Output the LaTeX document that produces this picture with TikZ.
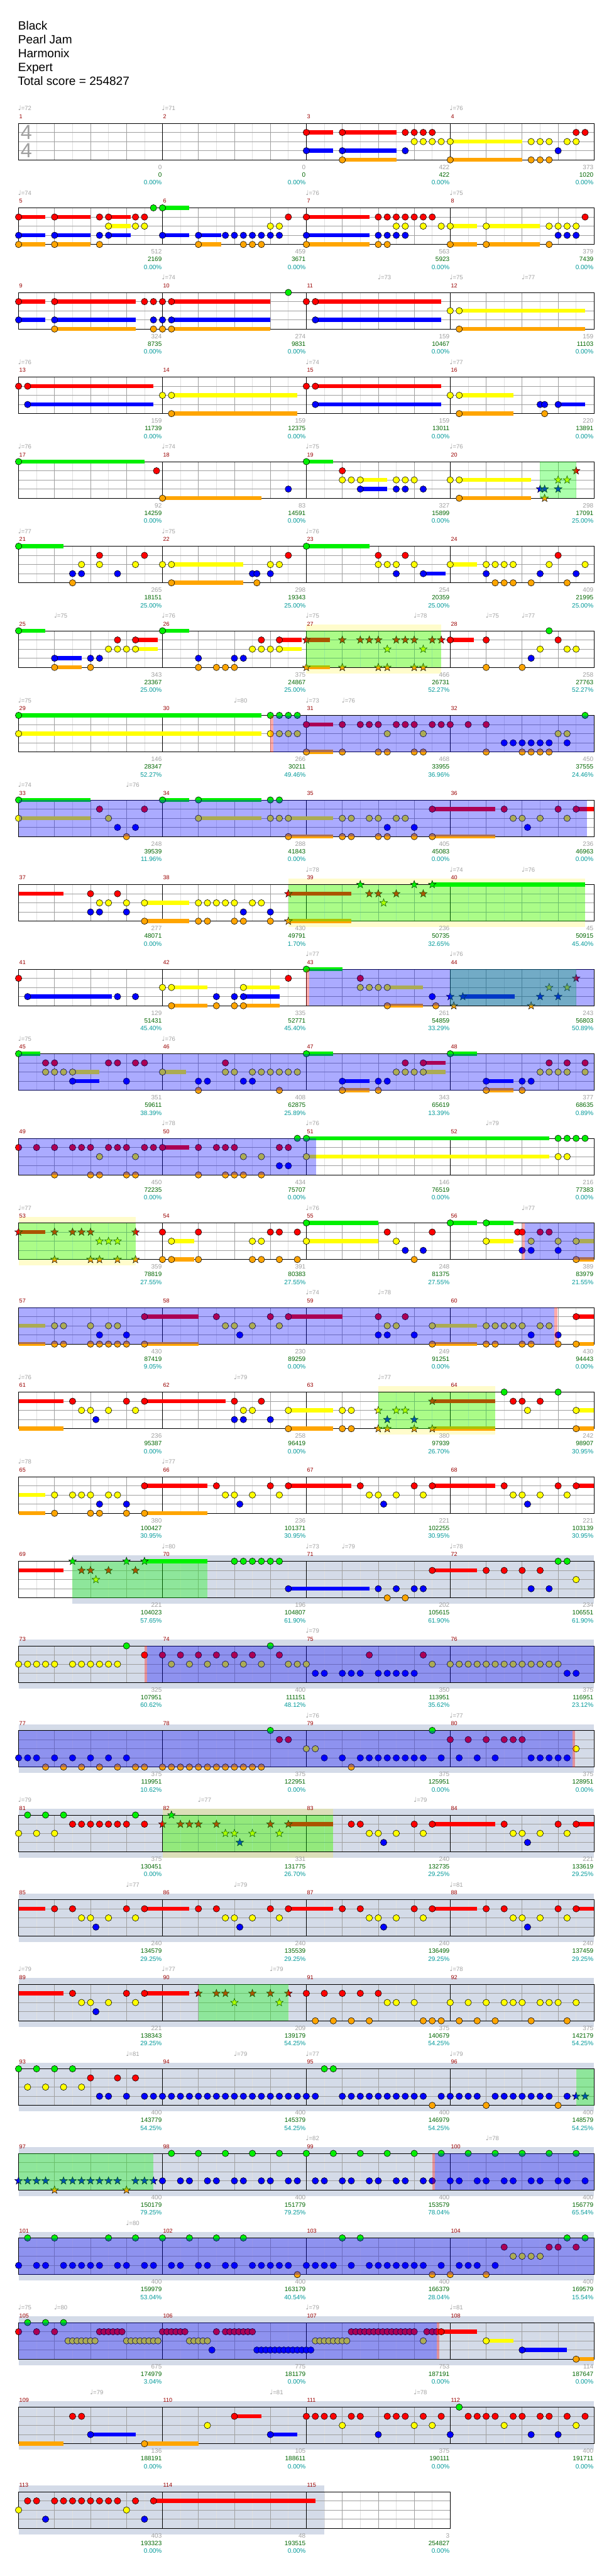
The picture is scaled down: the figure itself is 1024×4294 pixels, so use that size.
\documentclass[tikz,border=0pt]{standalone}
\usepackage{fontspec}
\setmainfont{Liberation Sans}
\newfontfamily\notefont{DejaVu Sans}
\usepackage{tikz}
\definecolor{GHGreen}{HTML}{00F000}
\definecolor{GHRed}{HTML}{FF0000}
\definecolor{GHYellow}{HTML}{FFFF00}
\definecolor{GHBlue}{HTML}{0000FF}
\definecolor{GHOrange}{HTML}{FFA500}
\colorlet{GHL0}{GHGreen}
\colorlet{GHL1}{GHRed}
\colorlet{GHL2}{GHYellow}
\colorlet{GHL3}{GHBlue}
\colorlet{GHL4}{GHOrange}
\definecolor{GHSolo}{HTML}{D4DBE8}
\definecolor{GHGrid}{HTML}{A0A0A0}
\definecolor{GHFine}{HTML}{E0E0E0}
\definecolor{GHBarNum}{HTML}{990000}
\definecolor{GHGray}{HTML}{A0A0A0}
\definecolor{GHCum}{HTML}{006600}
\definecolor{GHPct}{HTML}{009999}
\newcounter{ghtempo}
\newcommand\ghrow[1]{\pgfmathsetmacro\rowT{205.5+141*(#1-1)}}
\newcommand\ghstaff[1]{%
  \pgfmathsetmacro\rowW{240*#1}%
  \pgfmathtruncatemacro\nE{8*#1-1}%
  \pgfmathtruncatemacro\nB{4*#1-1}%
  \foreach \ve in {1,...,\nE} \draw[GHFine,line width=.8pt] ({31+30*\ve},\rowT) -- ({31+30*\ve},{\rowT+61});
  \foreach \ve in {1,...,\nB} \draw[GHGrid,line width=.8pt] ({31+60*\ve},\rowT) -- ({31+60*\ve},{\rowT+61});
  \foreach \ve in {1,2,3} \draw[GHGrid,line width=.8pt] (31,{\rowT+15.25*\ve}) -- ({31+\rowW},{\rowT+15.25*\ve});
  \foreach \ve in {1,...,#1} \draw[black,line width=.8pt] ({31+240*\ve},\rowT) -- ({31+240*\ve},{\rowT+61});
  \draw[black,line width=1pt] (31,\rowT) rectangle ({31+\rowW},{\rowT+61});}
\newcommand\ghsolo[2]{\fill[GHSolo] ({31+30*#1},{\rowT-10}) rectangle ({31+30*#2},{\rowT+71});}
\newcommand\ghspzone[2]{\fill[yellow,opacity=.2] ({31+30*#1},{\rowT-10}) rectangle ({31+30*#2},{\rowT+71});}
\newcommand\ghsp[2]{\fill[green,opacity=.33] ({31+30*#1},\rowT) rectangle ({31+30*#2},{\rowT+61});}
\newcommand\ghod[2]{\fill[blue,opacity=.33] ({31+30*#1},\rowT) rectangle ({31+30*#2},{\rowT+61});}
\newcommand\ghact[1]{\fill[red,opacity=.33] ({31+30*#1},\rowT) rectangle ({35.5+30*#1},{\rowT+61});}
\newcommand\ghsus[2]{\foreach \va/\vb in {#2}{\fill[GHL#1] ({31+30*\va},{\rowT+15.25*#1-3.4}) rectangle ({31+30*\vb},{\rowT+15.25*#1+3.4});}}
\newcommand\ghnote[2]{\foreach \vp in {#2}{\filldraw[fill=GHL#1,draw=black,line width=.6pt] ({31+30*\vp},{\rowT+15.25*#1}) circle (5.4pt);}}
\newcommand\ghstar[2]{\foreach \vp in {#2}{\filldraw[fill=GHL#1,draw=black,line width=.5pt,shift={({31+30*\vp},{\rowT+15.25*#1})}] (90:6.8pt) -- (126:2.8pt) -- (162:6.8pt) -- (198:2.8pt) -- (234:6.8pt) -- (270:2.8pt) -- (306:6.8pt) -- (342:2.8pt) -- (18:6.8pt) -- (54:2.8pt) -- cycle;}}
\newcommand\ghbars[2]{\foreach \vj in {1,...,#2}{\pgfmathtruncatemacro\vm{#1+\vj-1}\node[barnum] (bar\vm) at ({32+240*(\vj-1)},{\rowT-8}) {\vm};}}
\newcommand\ghtempo[2]{\stepcounter{ghtempo}\node[tempo] (tempo\theghtempo) at ({30+30*#1},{\rowT-21}) {{\notefont\fontsize{11}{12}\selectfont ♩}=#2};}
\newcommand\ghscores[2]{\foreach \va/\vb/\vc [count=\vj] in {#2}{\pgfmathtruncatemacro\vm{#1+\vj-1}
  \node[pts] (pts\vm) at ({30+240*\vj},{\rowT+76.5}) {\va};
  \node[cum] (cum\vm) at ({30+240*\vj},{\rowT+89.5}) {\vb};
  \node[pct] (pct\vm) at ({30+240*\vj},{\rowT+102.5}) {\vc\%};}}

\begin{document}
\begin{tikzpicture}[x=1pt,y=-1pt,
  headline/.style={anchor=base west,inner sep=0pt,font=\fontsize{20}{24}\selectfont},
  barnum/.style={anchor=base west,inner sep=0pt,text=GHBarNum,font=\fontsize{9.5}{11}\selectfont},
  tempo/.style={anchor=base west,inner sep=0pt,text=GHGray,font=\fontsize{10}{12}\selectfont},
  pts/.style={anchor=base east,inner sep=0pt,text=GHGray,font=\fontsize{10.5}{12}\selectfont},
  cum/.style={pts,text=GHCum},
  pct/.style={pts,text=GHPct},
  timesig/.style={inner sep=0pt,text=GHGray,font=\fontsize{34}{34}\selectfont}]
\path[use as bounding box] (0,0) rectangle (1024,4294);
\fill[white] (0,0) rectangle (1024,4294);
\node[headline] (song) at (30,49.3) {Black};
\node[headline] (artist) at (30,72.5) {Pearl Jam};
\node[headline] (charter) at (30,95.7) {Harmonix};
\node[headline] (level) at (30,118.8) {Expert};
\node[headline] (total) at (29.5,141.9) {Total score = 254827};

\ghrow{1}
\ghstaff{4}
\node[timesig] (sigtop) at (44,{\rowT+15.5}) {4};
\node[timesig] (sigbot) at (44,{\rowT+45.5}) {4};
\ghsus{1}{16/17.5,18/21}
\ghsus{2}{24/28}
\ghsus{3}{16/17.5,18/21}
\ghsus{4}{18/21,24/28}
\ghnote{1}{16,18,21.5,22,22.5,23,31,31.5}
\ghnote{2}{22,22.5,23,23.5,24,28.5,29,29.5,30.5,31}
\ghnote{3}{16,18,21.5,30}
\ghnote{4}{18,24,28.5,29,29.5}
\ghbars{1}{4}
\ghtempo{0}{72}\ghtempo{8}{71}\ghtempo{24}{76}
\ghscores{1}{0/0/0.00,0/0/0.00,422/422/0.00,373/1020/0.00}

\ghrow{2}
\ghstaff{4}
\ghsus{0}{8/9.5}
\ghsus{1}{0/1.5,2/4,5/6.25,16/19.5}
\ghsus{2}{5/6.25,24/25.5,26/29}
\ghsus{3}{0/1.5,2/4,5/6.25,8/9.5,10/11.25,16/19.5}
\ghsus{4}{0/1.5,2/4,10/11.25,16/19.5,24/25.5,26/29}
\ghnote{0}{7.5,8}
\ghnote{1}{0,2,4.5,5,6.5,7,15,16,20,20.5,21,21.5,22,22.5,23,31.5}
\ghnote{2}{5,6.5,7,14,14.5,21,21.5,22.5,23.5,24,26,29.5,30,30.5,31}
\ghnote{3}{0,2,4.5,5,8,10,11.5,12,12.5,13,13.5,14,14.5,16,20,20.5,21,21.5,30,30.5,31}
\ghnote{4}{0,2,4.5,10,12.5,13,13.5,16,20,20.5,24,26,29.5}
\ghbars{5}{4}
\ghtempo{0}{74}\ghtempo{16}{76}\ghtempo{24}{75}
\ghscores{5}{512/2169/0.00,459/3671/0.00,563/5923/0.00,379/7439/0.00}

\ghrow{3}
\ghstaff{4}
\ghsus{1}{0/1.5,2/6.5,8.5/14,16.5/23.5}
\ghsus{2}{24.5/31.5}
\ghsus{3}{0/1.5,2/6.5,8.5/14,16.5/23.5}
\ghsus{4}{2/6.5,8.5/14,24.5/31.5}
\ghnote{0}{15}
\ghnote{1}{0,2,7,7.5,8,8.5,16,16.5}
\ghnote{2}{24,24.5}
\ghnote{3}{0,2,7.5,8,8.5,16.5}
\ghnote{4}{2,7.5,8,8.5,24.5}
\ghbars{9}{4}
\ghtempo{8}{74}\ghtempo{20}{73}\ghtempo{24}{75}\ghtempo{28}{77}
\ghscores{9}{324/8735/0.00,274/9831/0.00,159/10467/0.00,159/11103/0.00}

\ghrow{4}
\ghstaff{4}
\ghsus{1}{0.5/7.5,16.5/23.5}
\ghsus{2}{8.5/15.5,24.5/27.5}
\ghsus{3}{0.5/7.5,16.5/23.5,30/31.5}
\ghsus{4}{8.5/15.5,24.5/27.5}
\ghnote{1}{0,0.5,16,16.5}
\ghnote{2}{8,8.5,24,24.5}
\ghnote{3}{0.5,16.5,29,29.25,30}
\ghnote{4}{8.5,24.5,29.25}
\ghbars{13}{4}
\ghtempo{0}{76}\ghtempo{16}{74}\ghtempo{24}{77}
\ghscores{13}{159/11739/0.00,159/12375/0.00,159/13011/0.00,220/13891/0.00}

\ghrow{5}
\ghstaff{4}
\ghsus{0}{0/7,16/17.5}
\ghsus{2}{19/20.5,24.5/28.5}
\ghsus{3}{19/20.5}
\ghsus{4}{8/13.5,24.5/28.5}
\ghnote{0}{0,16}
\ghnote{1}{7.67,18}
\ghnote{2}{18,18.5,19,21,21.5,22,24,24.5}
\ghnote{3}{15,19,21,21.5,22.5}
\ghnote{4}{8,24.5}
\ghstar{1}{31}
\ghstar{2}{30,30.5}
\ghstar{3}{29,29.25,30}
\ghstar{4}{29.25}
\ghsp{29}{31}
\ghbars{17}{4}
\ghtempo{0}{76}\ghtempo{8}{74}\ghtempo{16}{75}\ghtempo{24}{76}
\ghscores{17}{92/14259/0.00,83/14591/0.00,327/15899/0.00,298/17091/25.00}

\ghrow{6}
\ghstaff{4}
\ghsus{0}{0/2.5,16/19.5}
\ghsus{2}{8.5/12.5,24/25.5}
\ghsus{3}{22.5/23.75}
\ghsus{4}{8.5/12.5}
\ghnote{0}{0,16}
\ghnote{1}{4.5,7,15,20,21.5,30}
\ghnote{2}{3.5,4.5,6.5,8,8.5,14,14.5,20,20.5,21,22,24,26,26.5,27,27.5,29.5,31.5}
\ghnote{3}{3,3.5,5.5,13,13.25,14,21,22.5,26,29,31}
\ghnote{4}{3,8.5,13.25,26.5,27,27.5,28.5,30.5}
\ghbars{21}{4}
\ghtempo{0}{77}\ghtempo{8}{75}\ghtempo{16}{76}
\ghscores{21}{265/18151/25.00,298/19343/25.00,254/20359/25.00,409/21995/25.00}

\ghrow{7}
\ghspzone{16}{23.5}
\ghstaff{4}
\ghsus{0}{0/1.5,8/9.5}
\ghsus{1}{6.5/7.75,14.5/15.75,16/17.3,24/25.3}
\ghsus{2}{6.5/7.75,14.5/15.75}
\ghsus{3}{2/3.5}
\ghsus{4}{2/3.5,16/17.3}
\ghnote{0}{0,8,29.5}
\ghnote{1}{5.5,6.5,13.5,14.5,24,26,30}
\ghnote{2}{5,5.5,6,6.5,13,13.5,14,14.5,29,30.5,31}
\ghnote{3}{2,4,4.5,10,12,12.5,28.5}
\ghnote{4}{2,4,10,11,11.5,12,26,28}
\ghstar{1}{16,18,19,19.5,20,21,21.5,22,23,23.5}
\ghstar{2}{20.5,22.5}
\ghstar{4}{16,18,20,20.5,22,22.5}
\ghsp{16}{23.5}
\ghbars{25}{4}
\ghtempo{2}{75}\ghtempo{8}{76}\ghtempo{16}{75}\ghtempo{22}{78}\ghtempo{26}{75}\ghtempo{28}{77}
\ghscores{25}{343/23367/25.00,375/24867/25.00,466/26731/52.27,258/27763/52.27}

\ghrow{8}
\ghstaff{4}
\ghsus{0}{0/13.5}
\ghsus{1}{16/17.5}
\ghsus{2}{0/13.5}
\ghsus{4}{16/17.5}
\ghnote{0}{0,14,14.5,15,15.5,31.5}
\ghnote{1}{16,18,19,19.5,20,21,21.5,22,23,23.5,24,25,26}
\ghnote{2}{0,14,14.5,15,15.5,20.5,22.5,30,30.5}
\ghnote{3}{27,27.5,28,28.5,29,29.5,30.5}
\ghnote{4}{16,18,20,20.5,22,22.5,26,28,28.5,29,29.5}
\ghact{14}
\ghod{14.15}{32}
\ghbars{29}{4}
\ghtempo{0}{75}\ghtempo{12}{80}\ghtempo{16}{73}\ghtempo{18}{76}
\ghscores{29}{146/28347/52.27,266/30211/49.46,468/33955/36.96,450/37555/24.46}

\ghrow{9}
\ghstaff{4}
\ghsus{0}{0/4,8/9.5,10/13.5}
\ghsus{1}{23/26.5,31/32}
\ghsus{2}{0/4,10/13.5,15/17.5}
\ghsus{4}{15/17.5,23/26.5}
\ghnote{0}{0,8,10,14,14.5}
\ghnote{1}{4.5,7,23,27,30,31}
\ghnote{2}{0,5,10,14,14.5,15,18,18.5,19.5,20,21,21.5,27.5,28,29,30.5}
\ghnote{3}{5.5,6.5,20.5,22,28.3}
\ghnote{4}{6,15,18,18.5,20,20.5,22,23}
\ghod{0}{31.6}
\ghbars{33}{4}
\ghtempo{0}{74}\ghtempo{6}{76}
\ghscores{33}{248/39539/11.96,288/41843/0.00,405/45083/0.00,236/46963/0.00}

\ghrow{10}
\ghspzone{15}{31.5}
\ghstaff{4}
\ghsus{0}{23/31.5}
\ghsus{1}{0/2.5,15/18.5}
\ghsus{2}{7/9.5}
\ghsus{4}{7/9.5,15/18.5}
\ghnote{1}{4,5.5}
\ghnote{2}{4.5,5,6,7,10,10.5,11,11.5,12,13,13.5}
\ghnote{3}{4,4.5,6,12.5,14}
\ghnote{4}{7,10,10.5,12,12.5,14}
\ghstar{0}{19,22,23}
\ghstar{1}{15,19.5,20,21,22.5}
\ghstar{2}{20.3}
\ghstar{4}{15}
\ghsp{15}{31.5}
\ghbars{37}{4}
\ghtempo{16}{78}\ghtempo{24}{74}\ghtempo{28}{76}
\ghscores{37}{277/48071/0.00,430/49791/1.70,236/50735/32.65,45/50915/45.40}

\ghrow{11}
\ghstaff{4}
\ghsus{0}{16/18}
\ghsus{2}{8.5/10.5,12.5/14.5,20.5/22.5}
\ghsus{3}{0.5/5.2,12.5/14.5,24.7/27.6}
\ghsus{4}{8.5/10.5,12.5/14.5,20.5/22.5}
\ghnote{0}{16}
\ghnote{1}{0,15,19}
\ghnote{2}{8,8.5,12.5,19,19.5,20,20.5}
\ghnote{3}{0.5,5.5,6.5,11,12,12.5,23}
\ghnote{4}{8.5,11,12,12.5,20.5,23.2}
\ghstar{1}{31}
\ghstar{2}{29.5,30.5}
\ghstar{3}{24,24.7,29,30}
\ghstar{4}{24.2,28.5}
\ghsp{24}{31}
\ghact{16}
\ghod{16.15}{32}
\ghbars{41}{4}
\ghtempo{16}{77}\ghtempo{24}{76}
\ghscores{41}{129/51431/45.40,335/52771/45.40,261/54859/33.29,243/56803/50.89}

\ghrow{12}
\ghstaff{4}
\ghsus{0}{0/1.2,16/17.5,24/25.5}
\ghsus{1}{22.5/23.75}
\ghsus{2}{3/4.5,8/9.3,22.5/23.75}
\ghsus{3}{3/4.5,18/19.5,26/27.5}
\ghsus{4}{18/19.5,26/27.5}
\ghnote{0}{0,16,24}
\ghnote{1}{1.5,2,5,5.5,6.5,7,11.5,21.5,22.5,29.5,30.5,31.5}
\ghnote{2}{1.5,2,2.5,3,8,11.5,12,13,13.5,14,14.5,15,15.5,21,21.5,22,22.5,29,29.5,30,30.5,31.5}
\ghnote{3}{3,6,10,10.5,12.5,13,18,20,20.5,26,28,28.5}
\ghnote{4}{10,14.5,18,20,26,28}
\ghod{0}{32}
\ghbars{45}{4}
\ghtempo{0}{75}\ghtempo{8}{76}
\ghscores{45}{351/59611/38.39,408/62875/25.89,343/65619/13.39,377/68635/0.89}

\ghrow{13}
\ghstaff{4}
\ghsus{0}{16/29.5}
\ghsus{1}{8/9.5}
\ghsus{2}{16/29.5}
\ghnote{0}{15.5,16,30,30.5,31,31.5}
\ghnote{1}{0,1,2,3,3.5,4,5,5.5,6,7,7.5,8,10,11,11.5,12,14.5,15}
\ghnote{2}{4.5,6.5,12.5,13.5,16,30,30.5}
\ghnote{3}{14.5,15}
\ghnote{4}{2,4,4.5,6,6.5,10,11.5,12,12.5,13.5}
\ghod{0}{16.55}
\ghbars{49}{4}
\ghtempo{8}{78}\ghtempo{16}{76}\ghtempo{26}{79}
\ghscores{49}{450/72235/0.00,434/75707/0.00,146/76519/0.00,216/77383/0.00}

\ghrow{14}
\ghspzone{0}{6.5}
\ghstaff{4}
\ghsus{0}{16/20,24/25.5,26/27.5}
\ghsus{1}{0/1.5}
\ghsus{2}{8.5/9.75,16/20,26/27.5,31/32}
\ghsus{4}{8.5/9.75,31/32}
\ghnote{0}{16,24,26}
\ghnote{1}{8,10,14,14.5,15.5,20.5,23,27.75,28,29,29.5}
\ghnote{2}{8.5,13,13.5,16,21,26,28.5,30,31}
\ghnote{3}{21.5,22.5,28,28.5,30}
\ghnote{4}{8,8.5,10,13,13.5,14.5,15.5,22,31}
\ghstar{1}{0,2,3,3.5,4,6.5}
\ghstar{2}{4.5,5,5.5}
\ghstar{4}{2,4,4.5,5.5,6.5}
\ghsp{0}{6.5}
\ghact{28}
\ghod{28.15}{32}
\ghbars{53}{4}
\ghtempo{0}{77}\ghtempo{16}{76}\ghtempo{28}{77}
\ghscores{53}{359/78819/27.55,391/80383/27.55,248/81375/27.55,389/83979/21.55}

\ghrow{15}
\ghstaff{4}
\ghsus{1}{7/10,15/18,31/32}
\ghsus{2}{0/1.5,23/25.5}
\ghsus{4}{0/1.5,7/10,23/25.5,31/32}
\ghnote{1}{7,11,14,15,20,21.5,31}
\ghnote{2}{2,2.5,4,5,5.5,11.5,12,13,14.5,20.5,21,23,26,26.5,27,27.5,28,29,29.5}
\ghnote{3}{4.5,6,12.3,20,20.5,22,28.5,30}
\ghnote{4}{2,2.5,4,4.5,5,5.5,6,7,23,26,26.5,28,28.5,30,31}
\ghod{0}{29.8}
\ghact{29.8}
\ghbars{57}{4}
\ghtempo{16}{74}\ghtempo{20}{78}
\ghscores{57}{430/87419/9.05,230/89259/0.00,249/91251/0.00,430/94443/0.00}

\ghrow{16}
\ghspzone{20}{26.5}
\ghstaff{4}
\ghsus{1}{0/2.5,7/11.5,23/26.5}
\ghsus{2}{15/17.5,31/32}
\ghsus{4}{0/2.5,15/17.5,23/26.5,31/32}
\ghnote{0}{27,30}
\ghnote{1}{3,6,7,12,13.5,27.5,28,29}
\ghnote{2}{3.5,4,5,6.5,12.5,13,15,18,18.5,28.3,31}
\ghnote{3}{4.3,12,12.5,14}
\ghnote{4}{15,18,18.5,31}
\ghstar{1}{23}
\ghstar{2}{20,21,21.5}
\ghstar{3}{20.5,22}
\ghstar{4}{20,20.5,22,23}
\ghsp{20}{26.5}
\ghbars{61}{4}
\ghtempo{0}{76}\ghtempo{12}{79}\ghtempo{20}{77}
\ghscores{61}{236/95387/0.00,258/96419/0.00,380/97939/26.70,242/98907/30.95}

\ghrow{17}
\ghstaff{4}
\ghsus{1}{7/10.5,15/18.5,23/26.5,31/32}
\ghsus{2}{0/1.5}
\ghsus{4}{0/1.5,7/10.5}
\ghnote{1}{7,11,14,15,19,22,23,27,30,31}
\ghnote{2}{2,3,3.5,4,5,5.5,11.5,12,13,14.5,19.5,20,21,22.5,27.5,28,29,30.5}
\ghnote{3}{4.5,6,12.3,20.3,28.3}
\ghnote{4}{2,4,4.5,6,7}
\ghbars{65}{4}
\ghtempo{0}{78}\ghtempo{8}{77}
\ghscores{65}{380/100427/30.95,236/101371/30.95,221/102255/30.95,221/103139/30.95}

\ghrow{18}
\ghsolo{3}{32}
\ghstaff{4}
\ghsus{0}{7/10.5}
\ghsus{1}{0/2.5,23/25.5}
\ghsus{3}{15/19.5}
\ghnote{0}{12,12.5,13,13.5,14,14.5,30,30.5}
\ghnote{1}{23,26,27,28,29}
\ghnote{2}{31}
\ghnote{3}{15,20,21,22,22.5,28.5,29.5}
\ghnote{4}{20.5,21.5}
\ghstar{0}{3,6,7}
\ghstar{1}{3.5,4,5,6.5}
\ghstar{2}{4.3}
\ghsp{3}{10.5}
\ghbars{69}{4}
\ghtempo{8}{80}\ghtempo{16}{73}\ghtempo{18}{79}\ghtempo{24}{78}
\ghscores{69}{221/104023/57.65,196/104807/61.90,202/105615/61.90,234/106551/61.90}

\ghrow{19}
\ghsolo{0}{32}
\ghstaff{4}
\ghnote{0}{6,14}
\ghnote{1}{7,8,9,10,11,12,13,14.5,19.5,22.5}
\ghnote{2}{0,0.5,1,1.5,2,3,3.5,4,4.5,5,5.5,8.5,9.5,10.5,11.5,12.5,13.5,15,15.5,16,23,24,24.5,...,30}
\ghnote{3}{16.5,17,18,18.5,19,20,20.5,21,21.5,22,30.5,31}
\ghact{7}
\ghod{7.15}{32}
\ghbars{73}{4}
\ghtempo{16}{79}
\ghscores{73}{325/107951/60.62,400/111151/48.12,350/113951/35.62,375/116951/23.12}

\ghrow{20}
\ghsolo{0}{32}
\ghstaff{4}
\ghnote{0}{14,23}
\ghnote{1}{14.5,15,24,25,26,27,27.5,28}
\ghnote{2}{16,16.5,31}
\ghnote{3}{0,0.5,1,2,3,4,5,6,17,18,19,19.5,...,22.5,23.5,24.5,25.5,26.5,28.5,29,29.5,30,30.5}
\ghnote{4}{1.5,2.5,3.5,4.5,5.5,6.5,7,8,8.5,...,13.5,18.5}
\ghod{0}{30.8}
\ghact{30.8}
\ghbars{77}{4}
\ghtempo{16}{76}\ghtempo{24}{77}
\ghscores{77}{375/119951/10.62,375/122951/0.00,375/125951/0.00,375/128951/0.00}

\ghrow{21}
\ghsolo{0}{32}
\ghspzone{8}{17.5}
\ghstaff{4}
\ghsus{1}{15/17.5,23/26.5,31/32}
\ghnote{0}{0.5,1.5,2.5,6.5}
\ghnote{1}{3,3.5,4,4.5,5,5.5,6,7,18.5,19,22,23,27,30,31}
\ghnote{2}{0,1,2,19.5,20,21,22.5,27.5,28,29,30.5}
\ghnote{3}{20.3,28.3}
\ghstar{0}{8.5}
\ghstar{1}{8,9,9.5,10,11,14,15}
\ghstar{2}{11.5,12,13,14.5}
\ghstar{3}{12.3}
\ghsp{8}{17.5}
\ghbars{81}{4}
\ghtempo{0}{79}\ghtempo{10}{77}\ghtempo{22}{79}
\ghscores{81}{375/130451/0.00,331/131775/26.70,240/132735/29.25,221/133619/29.25}

\ghrow{22}
\ghsolo{0}{32}
\ghstaff{4}
\ghsus{1}{0/1.5,7/9.5,15/17.5,23/25.5,31/32}
\ghnote{1}{2,3,6,7,10,11,14,15,18,19,22,23,26,27,30,31}
\ghnote{2}{3.5,4,5,6.5,11.5,12,13,14.5,19.5,20,21,22.5,27.5,28,29,30.5}
\ghnote{3}{4.3,12.3,20.3,28.3}
\ghbars{85}{4}
\ghtempo{6}{77}\ghtempo{12}{79}\ghtempo{24}{81}
\ghscores{85}{240/134579/29.25,240/135539/29.25,240/136499/29.25,240/137459/29.25}

\ghrow{23}
\ghsolo{0}{32}
\ghstaff{4}
\ghsus{1}{0/2.5,7/9.5}
\ghnote{1}{3,6,7,16,17,18,19,20}
\ghnote{2}{3.5,4,5,6.5,20.5,21,22,24,25,26,27,27.5,28,29,29.5,30,31}
\ghnote{3}{4.3}
\ghnote{4}{16.5,17.5,18.5,19.5,22.5,23,23.5,24.5,25.5,26.5,28.5,30.5}
\ghstar{1}{10,11,11.5,13,14,15}
\ghstar{2}{12,14.5}
\ghsp{10}{15}
\ghbars{89}{4}
\ghtempo{0}{79}\ghtempo{8}{77}\ghtempo{14}{79}\ghtempo{24}{78}
\ghscores{89}{221/138343/29.25,209/139179/54.25,375/140679/54.25,375/142179/54.25}

\ghrow{24}
\ghsolo{0}{32}
\ghstaff{4}
\ghnote{0}{0,1,2,3,17,17.5}
\ghnote{1}{4,5.5,6.5}
\ghnote{2}{0.5,1.5,2.5,3.5}
\ghnote{3}{4.5,5,6,7,7.5,...,16.5,18,18.5,...,22.5,23.5,24,...,25.5,26.5,27,...,29.5,30.5}
\ghnote{4}{23,26,30}
\ghstar{3}{31,31.5}
\ghsp{31}{32}
\ghbars{93}{4}
\ghtempo{6}{81}\ghtempo{12}{79}\ghtempo{16}{77}\ghtempo{24}{79}
\ghscores{93}{400/143779/54.25,400/145379/54.25,400/146979/54.25,400/148579/54.25}

\ghrow{25}
\ghsolo{0}{32}
\ghstaff{4}
\ghnote{0}{8.5,10,...,31}
\ghnote{3}{8,9,9.5,10.5,11,12,12.5,13.5,14,15,15.5,16.5,17,18,18.5,19.5,20,21,21.5,22.5,23,24,24.5,25.5,26,27,27.5,28.5,29,30,30.5,31.5}
\ghstar{3}{0,0.5,1,1.5,2.5,3,3.5,4,4.5,5,5.5,6.5,7,7.5}
\ghstar{4}{2,6}
\ghsp{0}{7.5}
\ghact{23}
\ghod{23.15}{32}
\ghbars{97}{4}
\ghtempo{16}{82}\ghtempo{26}{78}
\ghscores{97}{400/150179/79.25,400/151779/79.25,400/153579/78.04,400/156779/65.54}

\ghrow{26}
\ghsolo{0}{32}
\ghstaff{4}
\ghnote{0}{0.5,2,5,6.5,8,9.5,11,12.5,18,19,30.5,31.5}
\ghnote{1}{27,29.5,30,31}
\ghnote{2}{27.5,28,28.5,29}
\ghnote{3}{0,1,1.5,2.5,3,3.5,4,4.5,5.5,6,7,7.5,8.5,9,10,10.5,11.5,12,13,13.5,14,14.5,15,16,16.5,17,17.5,18.5,19.5,20,20.5,21,21.5,22,22.5,23.5,24.5,25,25.5,26.5}
\ghnote{4}{15.5,23,24,26}
\ghod{0}{32}
\ghbars{101}{4}
\ghtempo{6}{80}
\ghscores{101}{400/159979/53.04,400/163179/40.54,400/166379/28.04,400/169579/15.54}

\ghrow{27}
\ghsolo{0}{32}
\ghstaff{4}
\ghsus{1}{23.5/25.5}
\ghsus{2}{26/27.5}
\ghsus{3}{28/30.5}
\ghsus{4}{31/32}
\ghnote{0}{0.5,1.5,2.5}
\ghnote{1}{0,1,2,4.5,4.75,...,5.75,8,8.25,...,9.25,11,11.5,11.75,...,13,18.5,18.75,...,22,22.7,23,23.25,23.5}
\ghnote{2}{2.75,3,...,4.25,6,6.25,...,7.75,9.5,9.75,...,10.5,16.5,16.75,...,18.25,22.5,26}
\ghnote{3}{10.75,13.25,13.5,...,16.25,28}
\ghnote{4}{31}
\ghod{0}{23.25}
\ghact{23.25}
\ghbars{105}{4}
\ghtempo{0}{75}\ghtempo{2}{80}\ghtempo{16}{79}\ghtempo{24}{81}
\ghscores{105}{675/174979/3.04,775/181179/0.00,753/187191/0.00,114/187647/0.00}

\ghrow{28}
\ghsolo{0}{32}
\ghstaff{4}
\ghsus{1}{12/13.5}
\ghsus{3}{4/6.5,14/15.5}
\ghsus{4}{0/2.5,7/10}
\ghnote{0}{24.5}
\ghnote{1}{3,3.5,12,16,16.5,17,17.5,18.5,19,20.5,21,21.5,22.5,23.5,25,25.5,26,26.5,27.5,28,29,29.5,30.5,31.5}
\ghnote{2}{10.5,18,22,23,27,31}
\ghnote{3}{4,14,20,24,28.5,30}
\ghnote{4}{7}
\ghbars{109}{4}
\ghtempo{4}{79}\ghtempo{14}{81}\ghtempo{22}{78}
\ghscores{109}{136/188191/0.00,105/188611/0.00,375/190111/0.00,400/191711/0.00}

\ghrow{29}
\ghsolo{0}{17}
\ghstaff{3}
\ghsus{1}{7.5/16.5}
\ghnote{1}{0.5,1,2,2.5,3,3.5,4,4.5,5,5.5,6.5,7.5}
\ghnote{2}{0,6}
\ghnote{3}{1.5,7}
\ghbars{113}{3}
\ghscores{113}{403/193323/0.00,48/193515/0.00,3/254827/0.00}
\end{tikzpicture}
\end{document}
